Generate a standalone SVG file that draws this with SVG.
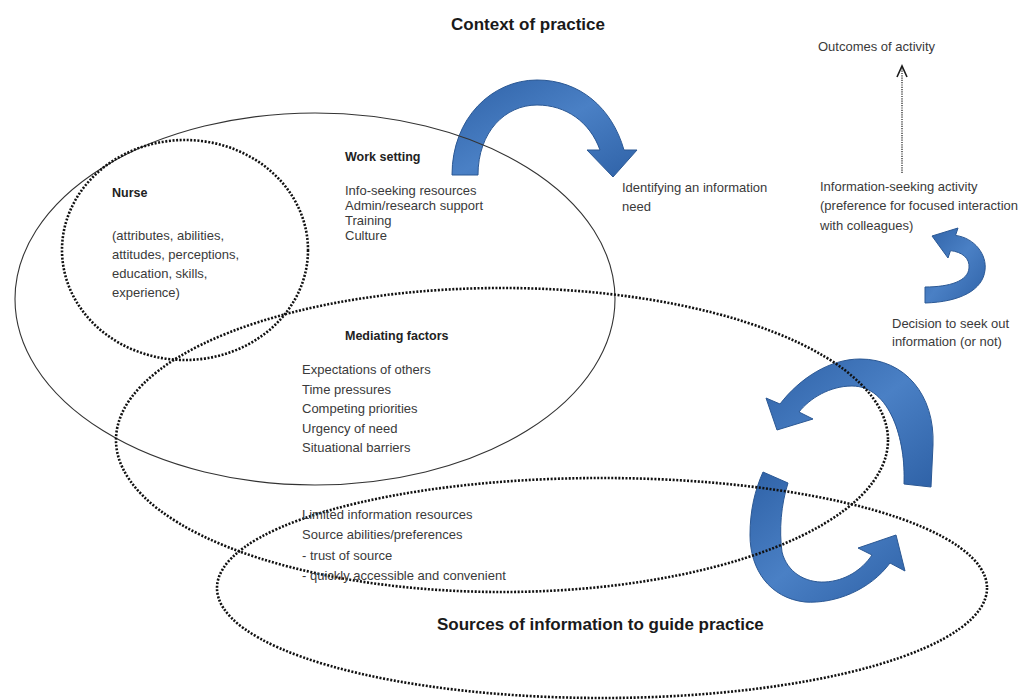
<svg xmlns="http://www.w3.org/2000/svg" width="1029" height="700" viewBox="0 0 1029 700">
  <defs>
    <linearGradient id="blueFill" x1="0" y1="0" x2="1" y2="1">
      <stop offset="0" stop-color="#2f62a7"/>
      <stop offset="0.5" stop-color="#4a80c5"/>
      <stop offset="1" stop-color="#2f62a7"/>
    </linearGradient>
    <style>
      .dots { fill: none; stroke: #111; stroke-width: 2.6; stroke-dasharray: 2 1.6; }
      .thin { fill: none; stroke: #333; stroke-width: 1.1; }
      .fine { fill: none; stroke: #2a2a2a; stroke-width: 1.3; stroke-dasharray: 1.2 1.1; }
      .head { fill: none; stroke: #1c1c1c; stroke-width: 1.6; stroke-linejoin: miter; }
      .curve { fill: url(#blueFill); stroke: #2b5894; stroke-width: 1; }
      text { font-family: "Liberation Sans", Arial, sans-serif; }
      .t { font-size: 13px; fill: #3a3a3a; }
      .h { font-size: 12.5px; font-weight: bold; fill: #222; }
      .big { font-size: 17px; font-weight: bold; fill: #1a1a1a; }
    </style>
  </defs>

  <rect width="1029" height="700" fill="#ffffff"/>

  <!-- blue cycle arrows and the dotted outcome arrow -->
  <g id="connectors">
    <!-- arc over the work setting towards "identifying a need" -->
    <path class="curve" d="M 452 175 C 452 118 492 80 537 80 C 580 80 612 108 624 150 L 637 150 L 613 177 L 587 150 L 600 150 C 590 122 566 105 537 105 C 505 105 478 132 478 175 Z"/>
    <!-- small hook from decision to information-seeking activity -->
    <path class="curve" d="M 932 236 L 958 228 L 955.5 235.4 C 975 238 987 255 985 270 C 983 290 960 302 925 303 L 925 287 C 950 287 968 281 969 268 C 970 258 962 252 950.5 250.6 L 948 258 Z"/>
    <!-- upper return arrow, pointing down-left -->
    <path class="curve" d="M 777 430 L 766 398 L 780 404 C 800 378 830 359 860 359 C 905 359 935 395 933 445 L 931 487 L 904 484 C 906 440 890 386 852 386 C 830 386 810 398 799 412 L 813 419 Z"/>
    <!-- lower return arrow, pointing up-right -->
    <path class="curve" d="M 896 535 L 905 571 L 890 563 C 870 590 835 604 805 602 C 770 598 750 570 750 535 C 750 510 755 490 763 472 L 788 483 C 781 505 779 530 782 552 C 787 572 805 583 825 582 C 845 581 862 570 872 555 L 858 548 Z"/>
    <!-- dotted arrow up to the outcomes -->
    <line class="fine" x1="902" y1="173" x2="902" y2="68"/>
    <polyline class="head" points="897,77 902,66 907,77"/>
  </g>

  <!-- work setting (thin outline) -->
  <g id="work-setting">
    <ellipse class="thin" cx="315" cy="299" rx="300" ry="186"/>
    <text class="h" x="345" y="161">Work setting</text>
    <text class="t" x="345" y="195">Info-seeking resources</text>
    <text class="t" x="345" y="210">Admin/research support</text>
    <text class="t" x="345" y="225">Training</text>
    <text class="t" x="345" y="240">Culture</text>
  </g>

  <!-- nurse -->
  <g id="nurse">
    <ellipse class="dots" cx="185" cy="250" rx="123" ry="110"/>
    <text class="h" x="112" y="197">Nurse</text>
    <text class="t" x="112" y="240">(attributes, abilities,</text>
    <text class="t" x="112" y="259">attitudes, perceptions,</text>
    <text class="t" x="112" y="278">education, skills,</text>
    <text class="t" x="112" y="297">experience)</text>
  </g>

  <!-- mediating factors -->
  <g id="mediating-factors">
    <ellipse class="dots" cx="502" cy="440" rx="386" ry="152"/>
    <text class="h" x="345" y="340">Mediating factors</text>
    <text class="t" x="302" y="374">Expectations of others</text>
    <text class="t" x="302" y="394">Time pressures</text>
    <text class="t" x="302" y="413">Competing priorities</text>
    <text class="t" x="302" y="433">Urgency of need</text>
    <text class="t" x="302" y="452">Situational barriers</text>
  </g>

  <!-- sources of information -->
  <g id="sources">
    <ellipse class="dots" cx="602" cy="588" rx="385" ry="110"/>
    <text class="t" x="302" y="519">Limited information resources</text>
    <text class="t" x="302" y="539">Source abilities/preferences</text>
    <text class="t" x="302" y="560">- trust of source</text>
    <text class="t" x="302" y="580">- quickly accessible and convenient</text>
    <text class="big" x="437" y="630">Sources of information to guide practice</text>
  </g>

  <g id="context">
    <text class="big" x="451" y="30">Context of practice</text>
  </g>

  <g id="identifying-need">
    <text class="t" x="622" y="192">Identifying an information</text>
    <text class="t" x="622" y="211">need</text>
  </g>

  <g id="information-seeking">
    <text class="t" x="820" y="191">Information-seeking activity</text>
    <text class="t" x="820" y="210">(preference for focused interaction</text>
    <text class="t" x="820" y="230">with colleagues)</text>
  </g>

  <g id="decision">
    <text class="t" x="892" y="328">Decision to seek out</text>
    <text class="t" x="892" y="346">information (or not)</text>
  </g>

  <g id="outcomes">
    <text class="t" x="818" y="51">Outcomes of activity</text>
  </g>
</svg>
